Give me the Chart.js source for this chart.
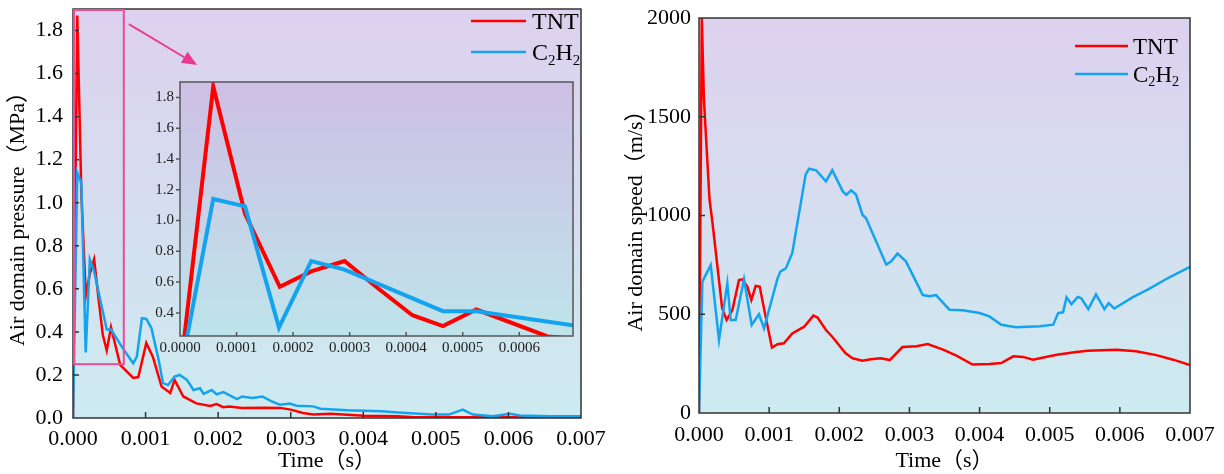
<!DOCTYPE html>
<html>
<head>
<meta charset="utf-8">
<script src="https://cdn.jsdelivr.net/npm/chart.js@4.4.1/dist/chart.umd.min.js"></script>
<style>
  html, body { margin: 0; padding: 0; background: #fff; }
  body { width: 1224px; height: 474px; position: relative; overflow: hidden; }
  .box { position: absolute; }
</style>
</head>
<body>
<div class="box" style="left:0;top:0;width:612px;height:474px"><canvas id="pressure"></canvas></div>
<div class="box" style="left:140px;top:78px;width:440px;height:282px"><canvas id="inset"></canvas></div>
<div class="box" style="left:612px;top:0;width:612px;height:474px"><canvas id="speed"></canvas></div>
<script>
// ---- data: [time (s), value] ----
const tntPressure = [
  [0, 0], [0.0000588, 1.87], [0.000115, 1.044], [0.0001765, 0.569], [0.000232, 0.67],
  [0.000291, 0.737], [0.00035, 0.56], [0.000411, 0.385], [0.000465, 0.314], [0.000524, 0.422],
  [0.00065, 0.247], [0.00083, 0.186], [0.0009, 0.19], [0.00101, 0.348], [0.0011, 0.285],
  [0.00122, 0.146], [0.00134, 0.116], [0.0014, 0.177], [0.00152, 0.1], [0.0017, 0.068],
  [0.00189, 0.056], [0.00198, 0.065], [0.00207, 0.05], [0.00215, 0.053], [0.00233, 0.047],
  [0.00261, 0.048], [0.00285, 0.047], [0.003, 0.039], [0.00317, 0.023], [0.00331, 0.016],
  [0.00355, 0.02], [0.00378, 0.015], [0.00401, 0.011], [0.00448, 0.008], [0.00471, 0.004],
  [0.005, 0.003], [0.0055, 0.003], [0.006, 0.003], [0.0065, 0.002], [0.007, 0.003]
];
const c2h2Pressure = [
  [0, 0], [0.0000588, 1.14], [0.000115, 1.092], [0.000175, 0.305], [0.000232, 0.737],
  [0.000291, 0.681], [0.000465, 0.411], [0.000524, 0.411], [0.000694, 0.32], [0.00083, 0.254],
  [0.00088, 0.285], [0.00095, 0.464], [0.00101, 0.46], [0.00108, 0.418], [0.00118, 0.27],
  [0.00124, 0.162], [0.00131, 0.153], [0.0014, 0.192], [0.00147, 0.2], [0.00157, 0.177],
  [0.00166, 0.13], [0.00175, 0.138], [0.0018, 0.112], [0.00191, 0.13], [0.00198, 0.11],
  [0.00207, 0.12], [0.0021, 0.116], [0.00226, 0.088], [0.00233, 0.1], [0.00247, 0.093],
  [0.00261, 0.1], [0.00273, 0.078], [0.00285, 0.062], [0.00299, 0.067], [0.00308, 0.057],
  [0.00331, 0.054], [0.00341, 0.043], [0.00378, 0.036], [0.00425, 0.031], [0.00448, 0.026],
  [0.00495, 0.016], [0.00518, 0.016], [0.00537, 0.039], [0.00551, 0.016], [0.00579, 0.008],
  [0.00602, 0.02], [0.00616, 0.012], [0.00658, 0.008], [0.007, 0.008]
];
const tntSpeed = [
  [0, 0], [0.00004, 2000], [0.00007, 1590], [0.00015, 1080], [0.00019, 970], [0.00033, 531],
  [0.000394, 471], [0.000476, 521], [0.00057, 673], [0.000618, 677], [0.000689, 640],
  [0.000746, 572], [0.000808, 643], [0.000865, 640], [0.00095, 488], [0.00104, 331],
  [0.00112, 348], [0.00121, 353], [0.00133, 403], [0.0015, 437], [0.00163, 493], [0.00169, 483],
  [0.00181, 420], [0.0019, 386], [0.00209, 302], [0.00219, 277], [0.00233, 265], [0.00245, 272],
  [0.00259, 277], [0.00272, 268], [0.0029, 334], [0.0031, 338], [0.00326, 349], [0.00348, 321],
  [0.00367, 290], [0.0039, 245], [0.00414, 248], [0.00431, 253], [0.00448, 287], [0.00462, 284],
  [0.00476, 270], [0.0051, 295], [0.00538, 309], [0.00554, 315], [0.00595, 320], [0.00623, 313],
  [0.00652, 293], [0.00676, 270], [0.007, 243]
];
const c2h2Speed = [
  [0, 0], [0.000048, 665], [0.000167, 749], [0.000285, 370], [0.000404, 657], [0.000452, 471],
  [0.000523, 471], [0.000642, 677], [0.000751, 446], [0.000855, 500], [0.000927, 429],
  [0.00112, 682], [0.00116, 716], [0.00124, 733], [0.00133, 810], [0.00152, 1207], [0.00157, 1237],
  [0.00167, 1229], [0.00181, 1173], [0.0019, 1229], [0.00205, 1122], [0.0021, 1105], [0.00217, 1127],
  [0.00224, 1105], [0.00233, 1004], [0.00238, 987], [0.00267, 751], [0.00274, 768], [0.00283, 807],
  [0.00295, 768], [0.00319, 597], [0.00329, 591], [0.00338, 597], [0.00357, 523], [0.00376, 520],
  [0.004, 506], [0.00414, 489], [0.00431, 447], [0.00452, 434], [0.00486, 439], [0.00505, 447],
  [0.00512, 506], [0.00519, 510], [0.00524, 586], [0.00531, 551], [0.0054, 588], [0.00545, 581],
  [0.00555, 526], [0.00566, 601], [0.00578, 526], [0.00584, 556], [0.00592, 529], [0.00618, 585],
  [0.00641, 627], [0.0067, 686], [0.007, 740]
];

// ---- tick labels ----
const timeTicks = [0, 0.001, 0.002, 0.003, 0.004, 0.005, 0.006, 0.007];
const pressureTicks = [0, 0.2, 0.4, 0.6, 0.8, 1.0, 1.2, 1.4, 1.6, 1.8];
const speedTicks = [0, 500, 1000, 1500, 2000];
const insetTimeTicks = [0, 0.0001, 0.0002, 0.0003, 0.0004, 0.0005, 0.0006];
const insetPressureTicks = [0.4, 0.6, 0.8, 1.0, 1.2, 1.4, 1.6, 1.8];

// zoomed region shown in the inset, and the arrow pointing to it (data units)
const zoomRegion = [0, 0.0007, 0.25, 1.9];
const arrowFrom = [0.00077, 1.83];
const arrowTo = [0.00171, 1.64];

const RED = '#ff0000';
const BLUE = '#14a4ef';
const FONT = "'Liberation Serif', 'Times New Roman', 'Noto Sans CJK SC', serif";

const toXY = rows => rows.map(r => ({ x: r[0], y: r[1] }));

function drawLabel(ctx, text, x, y, fs) {
  // digits drawn as subscripts (C2H2)
  const base = y + fs * 0.33;
  ctx.fillStyle = '#000';
  ctx.textBaseline = 'alphabetic';
  ctx.textAlign = 'left';
  for (const ch of text) {
    const sub = /\d/.test(ch);
    ctx.font = (sub ? fs * 0.62 : fs) + 'px ' + FONT;
    ctx.fillText(ch, x, sub ? base + fs * 0.2 : base);
    x += ctx.measureText(ch).width;
  }
}

function makeDecor(cfg) {
  return {
    id: 'decor',
    beforeDraw(chart) {
      const { ctx, chartArea: a } = chart;
      const g = ctx.createLinearGradient(0, a.top, 0, a.bottom);
      g.addColorStop(0, cfg.bgTop);
      g.addColorStop(1, cfg.bgBottom);
      ctx.save();
      ctx.fillStyle = g;
      ctx.fillRect(a.left, a.top, a.right - a.left, a.bottom - a.top);
      ctx.restore();
    },
    afterDatasetsDraw(chart) {
      const { ctx, chartArea: a } = chart;
      const x = chart.scales.x, y = chart.scales.y;
      ctx.save();
      ctx.strokeStyle = cfg.frame;
      ctx.lineWidth = cfg.frameWidth;
      ctx.strokeRect(a.left, a.top, a.right - a.left, a.bottom - a.top);

      // tick marks
      ctx.beginPath();
      x.ticks.forEach(t => {
        const px = x.getPixelForValue(t.value);
        if (px <= a.left + 1 || px >= a.right - 1) return;
        ctx.moveTo(px, a.bottom);
        ctx.lineTo(px, a.bottom - cfg.tickLen);
      });
      y.ticks.forEach(t => {
        const py = y.getPixelForValue(t.value);
        if (py <= a.top + 1 || py >= a.bottom - 1) return;
        ctx.moveTo(a.left, py);
        ctx.lineTo(a.left + cfg.yTickDir * cfg.tickLen, py);
      });
      ctx.stroke();

      // zoom box + arrow
      if (cfg.zoom) {
        const [x0, x1, y0, y1] = zoomRegion;
        const l = x.getPixelForValue(x0), r = x.getPixelForValue(x1);
        const t = y.getPixelForValue(y1), b = y.getPixelForValue(y0);
        ctx.strokeStyle = '#ec4a9c';
        ctx.lineWidth = 2;
        ctx.strokeRect(l + 1, t + 1, r - l - 1, b - t - 1);

        const ax = x.getPixelForValue(arrowFrom[0]), ay = y.getPixelForValue(arrowFrom[1]);
        const bx = x.getPixelForValue(arrowTo[0]), by = y.getPixelForValue(arrowTo[1]);
        const ang = Math.atan2(by - ay, bx - ax);
        const head = 15, half = 6.5;
        const hx = bx - head * Math.cos(ang), hy = by - head * Math.sin(ang);
        ctx.strokeStyle = '#ea3b93';
        ctx.fillStyle = '#ea3b93';
        ctx.beginPath();
        ctx.moveTo(ax, ay);
        ctx.lineTo(hx, hy);
        ctx.stroke();
        ctx.beginPath();
        ctx.moveTo(bx, by);
        ctx.lineTo(hx + half * Math.sin(ang), hy - half * Math.cos(ang));
        ctx.lineTo(hx - half * Math.sin(ang), hy + half * Math.cos(ang));
        ctx.closePath();
        ctx.fill();
      }

      // legend
      if (cfg.legend) {
        const L = cfg.legend;
        chart.data.datasets.forEach((ds, i) => {
          const yy = L.top + i * L.rowGap;
          const x0 = a.right - L.right;
          ctx.strokeStyle = ds.borderColor;
          ctx.lineWidth = L.lineWidth;
          ctx.beginPath();
          ctx.moveTo(x0, yy);
          ctx.lineTo(x0 + L.lineLen, yy);
          ctx.stroke();
          drawLabel(ctx, ds.label, x0 + L.lineLen + L.gap, yy, L.fontSize);
        });
      }
      ctx.restore();
    }
  };
}

function xAxis(o) {
  return {
    type: 'linear', min: o.min, max: o.max,
    afterBuildTicks: s => { s.ticks = o.ticks.map(v => ({ value: v })); },
    afterFit: s => { s.height = o.height; s.paddingLeft = 0; s.paddingRight = 0; },
    grid: { display: false, drawTicks: false },
    border: { display: false },
    ticks: {
      autoSkip: false, maxRotation: 0, padding: o.pad, color: o.color || '#000',
      font: { family: FONT, size: o.size },
      callback: v => v.toFixed(o.digits)
    },
    title: {
      display: !!o.title, text: o.title, color: '#000',
      font: { family: FONT, size: 22 }, padding: { top: 0, bottom: 0 }
    }
  };
}

function yAxis(o) {
  return {
    type: 'linear', min: o.min, max: o.max,
    afterBuildTicks: s => { s.ticks = o.ticks.map(v => ({ value: v })); },
    afterFit: s => { s.width = o.width; s.paddingTop = 0; s.paddingBottom = 0; },
    grid: { display: false, drawTicks: false },
    border: { display: false },
    ticks: {
      autoSkip: false, padding: o.pad, color: o.color || '#000',
      font: { family: FONT, size: o.size },
      callback: v => v.toFixed(o.digits)
    },
    title: {
      display: !!o.title, text: o.title, color: '#000',
      font: { family: FONT, size: 22 }, padding: { top: o.titlePad || 0, bottom: 0 }
    }
  };
}

function series(pData, cData, width) {
  return [
    { label: 'TNT', data: toXY(pData), borderColor: RED, borderWidth: width, pointRadius: 0, tension: 0, order: 1 },
    { label: 'C2H2', data: toXY(cData), borderColor: BLUE, borderWidth: width, pointRadius: 0, tension: 0, order: 0 }
  ];
}

const baseOptions = {
  responsive: true,
  maintainAspectRatio: false,
  animation: false,
  devicePixelRatio: 1,
  plugins: { legend: { display: false }, tooltip: { enabled: false } }
};

// left: pressure
new Chart(document.getElementById('pressure'), {
  type: 'line',
  data: { datasets: series(tntPressure, c2h2Pressure, 2.5) },
  options: Object.assign({}, baseOptions, {
    layout: { padding: { top: 9, right: 31, left: 0, bottom: 0 } },
    scales: {
      x: xAxis({ min: 0, max: 0.007, ticks: timeTicks, digits: 3, height: 56, pad: 8, size: 22, title: 'Time（s）' }),
      y: yAxis({ min: 0, max: 1.9, ticks: pressureTicks, digits: 1, width: 73, pad: 10, size: 22, title: 'Air domain pressure（MPa）', titlePad: 5 })
    }
  }),
  plugins: [makeDecor({
    bgTop: '#ddd1ee', bgBottom: '#cdebf0', frame: '#333', frameWidth: 1.5,
    tickLen: 6, yTickDir: 1, zoom: true,
    legend: { top: 21, rowGap: 31, right: 110, lineLen: 55, gap: 6, lineWidth: 2.5, fontSize: 24 }
  })]
});

// inset: zoom of the first 0.0007 s
new Chart(document.getElementById('inset'), {
  type: 'line',
  data: { datasets: series(tntPressure, c2h2Pressure, 4) },
  options: Object.assign({}, baseOptions, {
    layout: { padding: { top: 4, right: 7, left: 0, bottom: 0 } },
    scales: {
      x: xAxis({ min: 0, max: 0.000695, ticks: insetTimeTicks, digits: 4, height: 24, pad: 3, size: 15, color: '#222' }),
      y: yAxis({ min: 0.25, max: 1.9, ticks: insetPressureTicks, digits: 1, width: 40, pad: 6, size: 15, color: '#222' })
    }
  }),
  plugins: [makeDecor({
    bgTop: '#cebfe5', bgBottom: '#bee4ea', frame: '#555', frameWidth: 1.5,
    tickLen: 4, yTickDir: -1, zoom: false, legend: null
  })]
});

// right: speed
new Chart(document.getElementById('speed'), {
  type: 'line',
  data: { datasets: series(tntSpeed, c2h2Speed, 2.5) },
  options: Object.assign({}, baseOptions, {
    layout: { padding: { top: 18, right: 34, left: 0, bottom: 0 } },
    scales: {
      x: xAxis({ min: 0, max: 0.007, ticks: timeTicks, digits: 3, height: 61, pad: 9, size: 22, title: 'Time（s）' }),
      y: yAxis({ min: 0, max: 2000, ticks: speedTicks, digits: 0, width: 87, pad: 8, size: 22, title: 'Air domain speed（m/s）', titlePad: 11 })
    }
  }),
  plugins: [makeDecor({
    bgTop: '#ddd1ee', bgBottom: '#cdebf0', frame: '#333', frameWidth: 1.5,
    tickLen: 6, yTickDir: 1, zoom: false,
    legend: { top: 46, rowGap: 28, right: 115, lineLen: 53, gap: 5, lineWidth: 2.5, fontSize: 23 }
  })]
});
</script>
</body>
</html>
